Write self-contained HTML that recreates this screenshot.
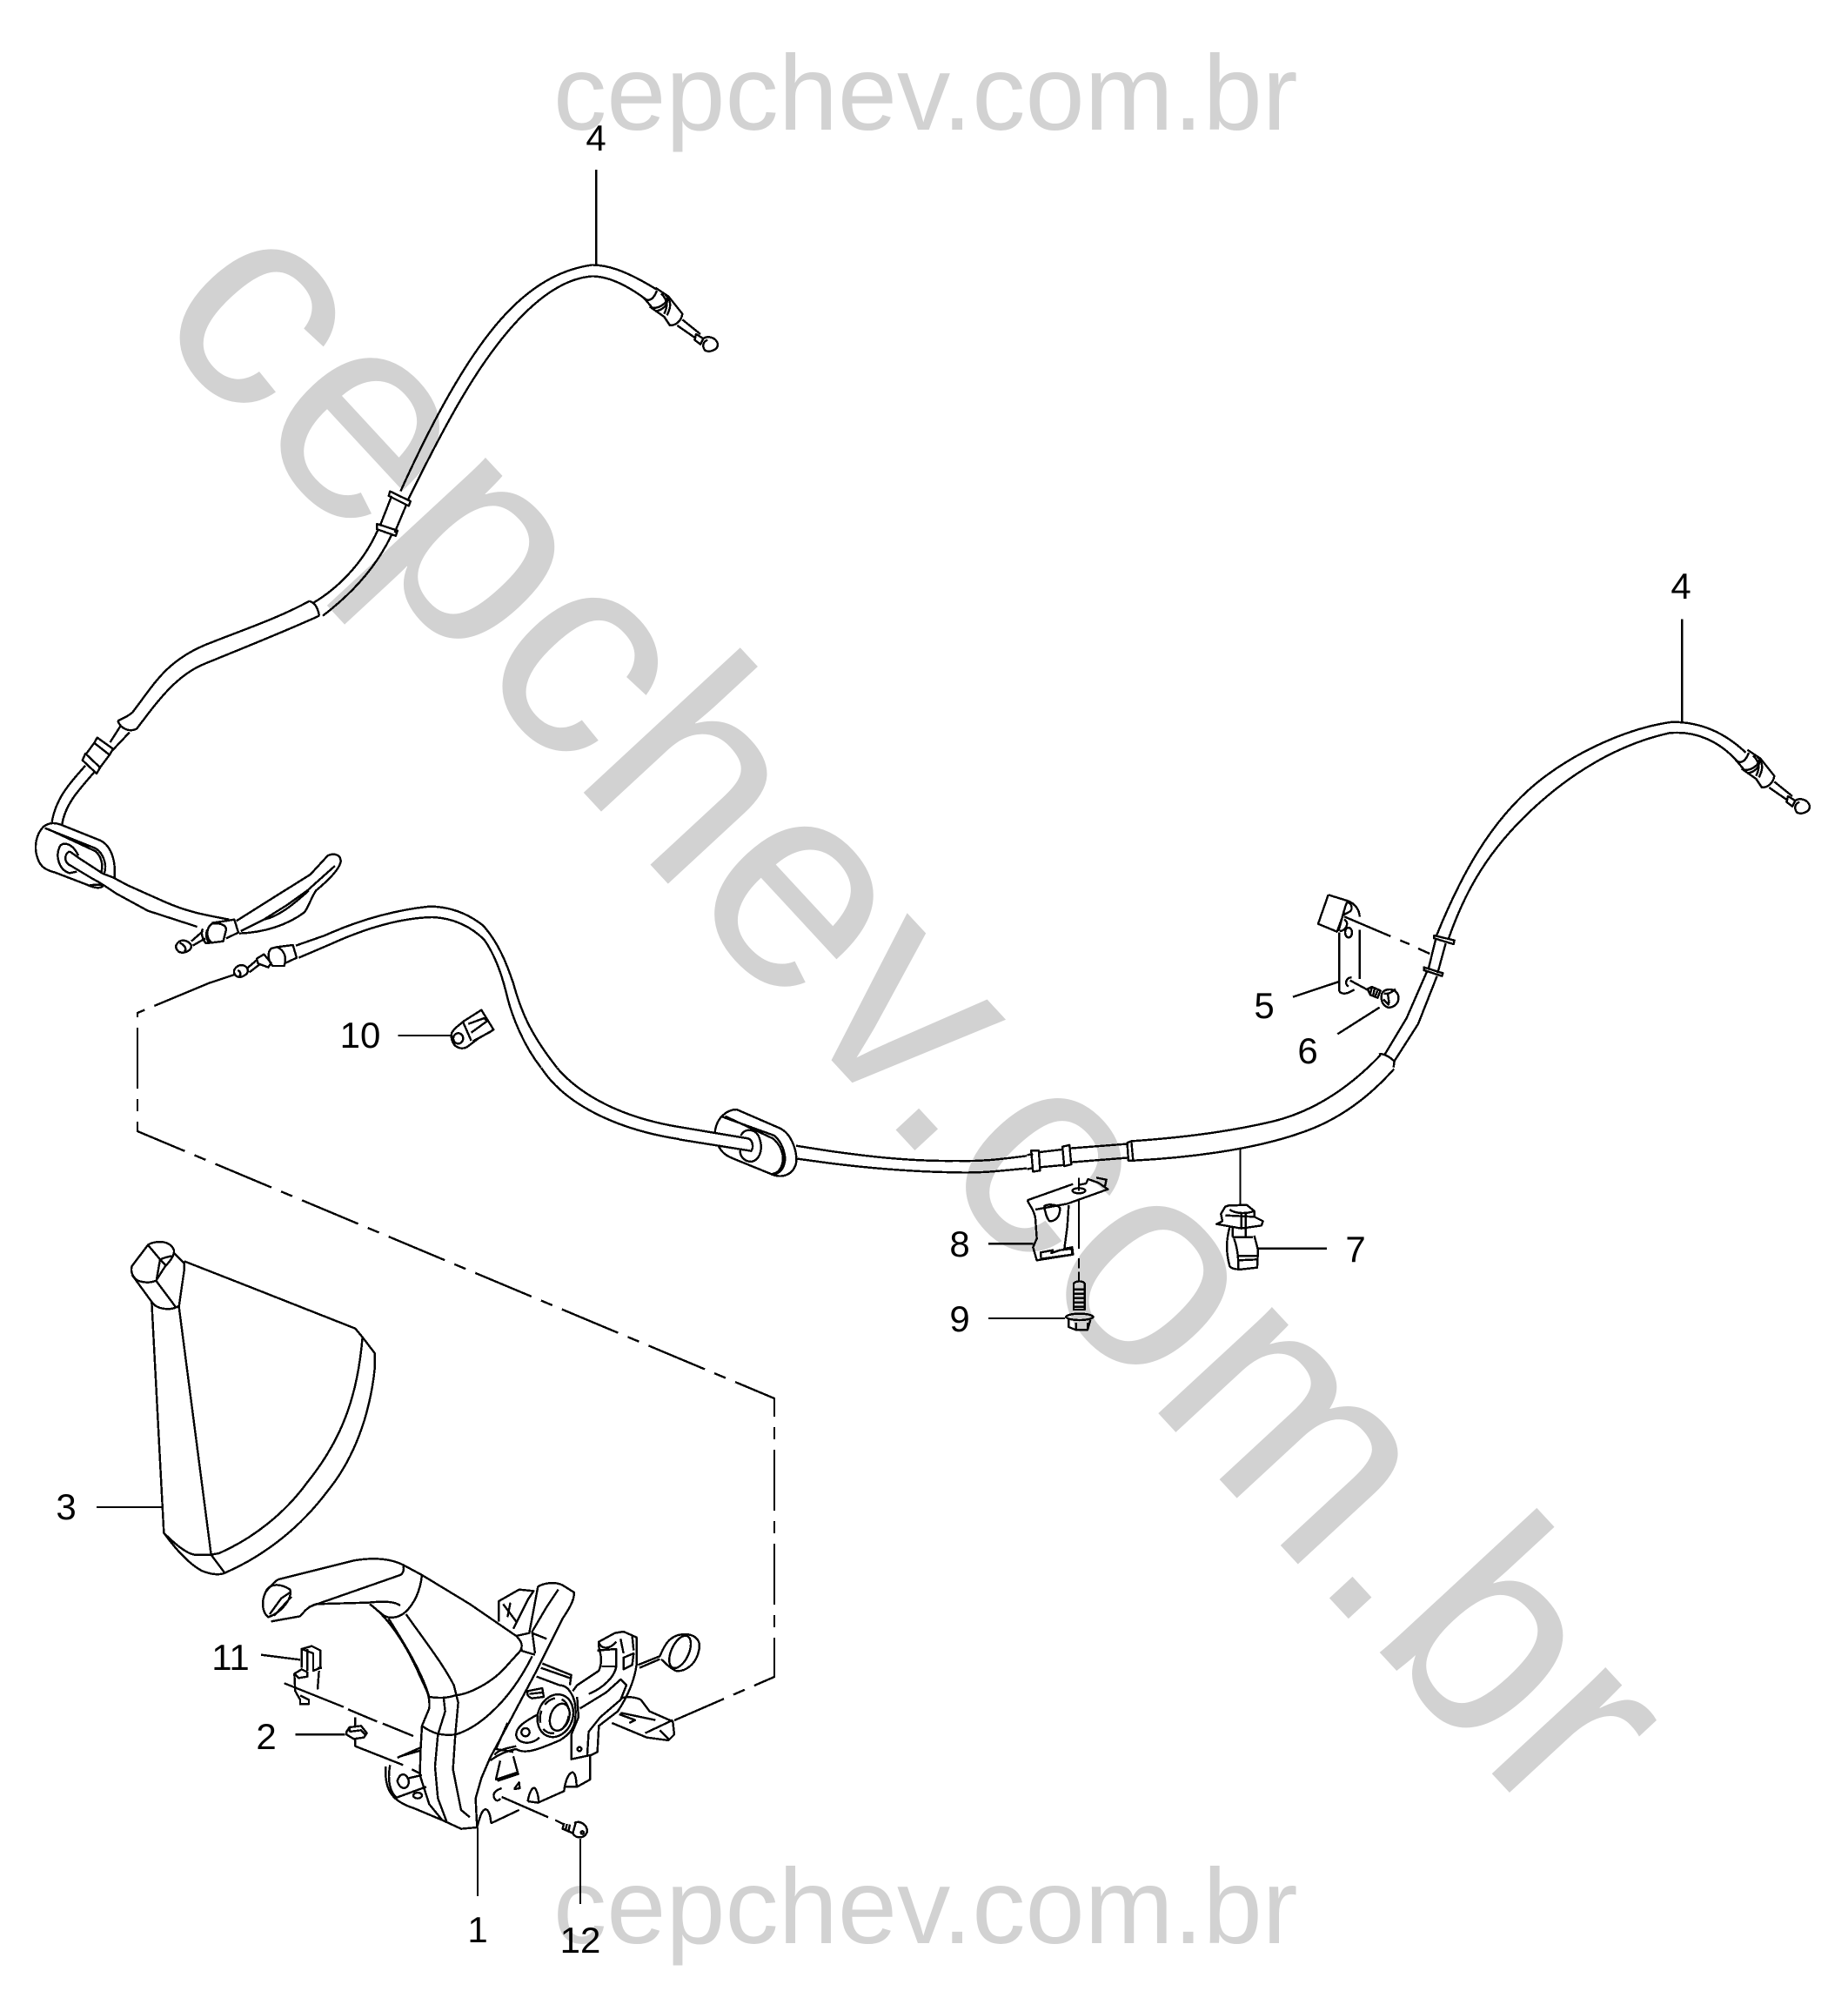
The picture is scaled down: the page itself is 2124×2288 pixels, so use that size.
<!DOCTYPE html>
<html>
<head>
<meta charset="utf-8">
<title>Parking brake diagram</title>
<style>
html,body{margin:0;padding:0;background:#fff;}
svg{display:block;}
path,ellipse,line{fill:none;stroke:#000;stroke-width:2.4;vector-effect:non-scaling-stroke;stroke-linejoin:round;stroke-linecap:butt;shape-rendering:crispEdges;}
.wm{font-family:"Liberation Sans",sans-serif;fill:#d2d2d2;}
.lb{font-family:"Liberation Sans",sans-serif;font-size:42px;fill:#000;text-anchor:middle;}
</style>
</head>
<body>
<svg xmlns="http://www.w3.org/2000/svg" width="2124" height="2288" viewBox="0 0 2124 2288">
<rect width="2124" height="2288" fill="#fff"/>

<!-- watermark -->
<text class="wm" x="636" y="149" font-size="122.5">cepchev.com.br</text>
<text class="wm" x="636" y="2233" font-size="122.5">cepchev.com.br</text>
<text class="wm" x="169" y="369" font-size="338.5" transform="rotate(47.2 169 369)">cepchev.com.br</text>

<!-- Upper cable (zoom 1 space) -->
<g transform="scale(.677,.765)">
<path d="M1012,255 L1012,398"/>
<path d="M1115,435 C1060,405 1030,398 1005,398 C950,405 900,430 850,480 C790,540 730,640 680,738"/>
<path d="M1100,452 C1060,425 1030,415 1005,415 C960,418 915,445 870,490 C810,550 760,630 692,752"/>
<path d="M662,738 L697,753 L694,760 L660,745Z M640,787 L675,797 L672,805 L640,795Z"/>
<path d="M665,745 L645,790 M690,758 L670,800"/>
<path d="M642,795 C620,840 580,880 533,905 M665,803 C640,850 600,890 548,925"/>
<path d="M525,903 C470,930 400,950 345,970 C280,995 260,1030 225,1070 C215,1078 205,1080 200,1083"/>
<path d="M542,925 C480,950 400,978 345,998 C300,1015 270,1050 232,1095"/>
<path d="M525,903 C535,905 540,915 542,925 M200,1083 C205,1095 220,1100 232,1095"/>
<path d="M205,1090 L187,1115 M220,1100 L190,1128"/>
<path d="M165,1108 L192,1125 L186,1134 L160,1116Z"/>
<path d="M160,1116 L145,1134 M186,1134 L168,1155"/>
<path d="M145,1132 L170,1153 L164,1162 L140,1142Z"/>
<path d="M145,1150 C115,1180 95,1200 88,1235 M160,1160 C130,1190 110,1210 105,1240"/>
</g>

<!-- End fitting (right, zoom 10 space) -->
<g transform="translate(1980,840) scale(.3333)">
<path d="M85,65 L130,95 C125,115 105,135 75,135 L45,100 C55,110 75,115 90,75"/>
<path d="M130,95 L178,155 C175,175 160,195 135,195 L115,165 L65,130"/>
<path d="M105,85 C125,105 130,125 115,155 M90,145 C110,140 130,125 125,100 M120,90 C140,110 140,130 125,160"/>
<path d="M178,175 L240,225 M160,195 L225,240 M225,225 L250,240 L240,260 L220,245Z"/>
<path d="M250,240 C265,230 295,235 300,260 C300,280 270,290 255,280 C245,265 250,250 265,245"/>
</g>
<!-- End fitting (upper cable) -->
<g transform="translate(725,309) scale(.3333)">
<path d="M85,65 L130,95 C125,115 105,135 75,135 L45,100 C55,110 75,115 90,75"/>
<path d="M130,95 L178,155 C175,175 160,195 135,195 L115,165 L65,130"/>
<path d="M105,85 C125,105 130,125 115,155 M90,145 C110,140 130,125 125,100 M120,90 C140,110 140,130 125,160"/>
<path d="M178,175 L240,225 M160,195 L225,240 M225,225 L250,240 L240,260 L220,245Z"/>
<path d="M250,240 C265,230 295,235 300,260 C300,280 270,290 255,280 C245,265 250,250 265,245"/>
</g>

<!-- Left grommet and loop (zoom 5 space) -->
<g transform="translate(30,930) scale(.3333)">
<path d="M60,60 C80,45 100,45 125,55 L250,105 C290,120 310,170 305,235"/>
<path d="M60,60 C35,85 25,130 40,170 C50,200 70,210 100,218 L210,260 C230,270 255,275 265,265"/>
<path d="M65,65 L240,135 C265,150 280,190 270,220 M75,68 L240,145 C260,165 265,190 260,215"/>
<path d="M115,130 C100,165 115,210 150,220 L175,215 M115,130 C125,110 160,115 180,160"/>
<path d="M220,262 C235,260 250,258 262,262"/>
<path d="M150,145 C130,155 130,185 155,195 L230,240 C260,255 280,270 310,290 L420,350 L590,405"/>
<path d="M150,145 L185,170 L265,222 L300,235 L350,262 L480,320 C560,355 620,365 700,380"/>
<path d="M640,392 C690,385 700,383 718,380 L732,425 L690,445"/>
<path d="M640,395 C620,410 620,445 640,460 L680,455 L690,415 C690,400 670,390 640,395Z"/>
<path d="M610,412 C600,425 610,450 620,462 L640,460 M625,415 C618,430 622,450 630,458"/>
<path d="M610,420 L570,455 M618,445 L575,470"/>
<path d="M520,465 C530,445 560,450 570,470 C570,490 540,500 525,490 C515,480 515,470 520,465Z M530,460 C550,470 555,485 545,490"/>
<path d="M725,385 L860,300 L980,225 L1040,160 C1060,150 1085,155 1085,180 C1080,210 1030,255 1000,280 C985,300 975,335 960,355 C900,400 820,425 735,428"/>
<path d="M740,420 L820,380 L900,330 L970,280 L1065,195 M820,380 C870,370 920,330 975,280"/>
</g>

<!-- Second cable, left (zoom 6 space) -->
<g transform="translate(240,1030) scale(.3333)">
<path d="M300,170 L400,135 C500,90 620,50 760,35 C840,35 900,65 945,100 C1000,160 1030,240 1050,300 C1075,390 1105,470 1200,590"/>
<path d="M310,212 L420,165 C530,115 650,75 770,72 C850,75 910,110 950,150 C985,200 1010,270 1025,330 C1045,420 1090,520 1145,590"/>
<path d="M235,175 L290,168 L303,212 L260,232"/>
<path d="M215,180 C200,195 205,225 220,240 L260,240 C270,210 260,185 235,175Z"/>
<path d="M165,215 L190,200 L215,230 L205,245 L170,232Z"/>
<path d="M165,220 L130,250 M175,235 L140,262"/>
<path d="M90,250 C105,230 130,235 135,255 C135,270 110,285 95,275 C85,265 85,258 90,250Z M100,255 C110,260 112,270 105,275"/>
<path d="M5,298 L88,270"/>
<!-- part 10 -->
<path d="M652,480 L838,480"/>
<path d="M838,470 C850,450 870,440 880,430 L940,392 L982,460 L930,490 L890,520 C870,530 850,520 842,505 C835,490 835,480 838,470Z"/>
<path d="M875,430 L905,498 M895,440 L950,420 L960,430 L905,470 M910,500 L975,465"/>
<ellipse cx="860" cy="490" rx="17" ry="18"/>
</g>
<path d="M640,1227 C670,1262 720,1285 780,1295 M622,1227 C650,1270 710,1298 780,1309"/>

<!-- Middle grommet (zoom 7 space) -->
<g transform="translate(780,1240) scale(.3333)">
<path d="M0,165 L240,205 C255,210 260,235 250,248 L0,208"/>
<path d="M125,185 C130,130 170,105 200,105 L350,170 C390,190 410,250 405,290 C395,330 360,340 330,332 L190,275 C165,265 150,255 138,232"/>
<path d="M150,130 L330,195 C355,215 372,260 365,290 C360,315 340,330 320,330 M160,128 L325,205 C350,225 365,260 358,290 C350,320 335,325 320,328"/>
<path d="M215,195 C225,170 260,170 275,195 C295,240 280,280 250,285 C225,285 205,260 215,240"/>
<path d="M405,230 L520,248 C640,265 800,285 960,282 C1050,285 1120,275 1200,265"/>
<path d="M410,275 L520,290 C640,305 800,320 960,322 C1050,325 1120,315 1200,308"/>
</g>

<!-- Right cable (zoom 2 space) -->
<g transform="translate(1062,600) scale(.677,.638)">
<path d="M175,1140 L185,1138 M175,1165 L185,1164"/>
<path d="M182,1132 L195,1132 L197,1168 L185,1170Z M235,1125 L247,1122 L250,1157 L238,1160Z"/>
<path d="M195,1135 L235,1130 M197,1162 L238,1158 M247,1128 L345,1120 M250,1153 L345,1145"/>
<path d="M345,1118 L352,1115 L355,1150 L347,1150Z"/>
<path d="M352,1115 C450,1108 530,1095 590,1080 C670,1060 730,1010 775,960"/>
<path d="M355,1150 C450,1145 560,1130 640,1100 C710,1075 760,1030 798,985"/>
<path d="M870,745 C910,640 960,540 1040,470 C1110,410 1200,370 1270,360 C1320,360 1360,380 1395,415"/>
<path d="M890,752 C920,660 960,590 1030,520 C1100,450 1180,400 1265,380 C1310,375 1350,395 1380,430"/>
<path d="M1287,175 L1287,360"/>
<path d="M537,1130 L537,1230"/>
</g>

<!-- Bracket 5, screw 6, right clips (zoom 9 space) -->
<g transform="translate(1420,1010) scale(.3333)">
<path d="M515,605 L590,480 L660,320 M548,628 L630,500 L695,335"/>
<path d="M495,605 C510,600 535,615 548,630 L545,650"/>
<path d="M650,305 L715,325 L712,335 L650,315Z M685,195 L755,212 L752,225 L685,205Z"/>
<path d="M665,312 L690,210 M697,325 L725,222"/>
<path d="M320,55 L285,155 L350,182 L375,115"/>
<path d="M320,55 L385,75 C415,85 428,110 428,130"/>
<path d="M385,80 C375,100 370,130 355,180 M385,80 C405,85 405,110 390,115 L370,125 M375,140 C395,150 380,180 360,180"/>
<ellipse cx="390" cy="185" rx="12" ry="17"/>
<path d="M358,185 L358,385 C360,395 375,398 390,392 L410,382 M428,175 L428,345"/>
<path d="M400,340 C380,340 375,365 390,370"/>
<path d="M198,407 L355,355"/>
<path d="M375,130 L535,198 M568,212 L600,225 M630,240 L670,258"/>
<path d="M395,350 L460,385"/>
<path d="M455,380 L470,372 L500,385 L490,410 L465,400Z M470,375 L465,395 M480,378 L475,400 M490,385 L482,405"/>
<path d="M505,395 C515,375 555,375 562,405 C565,430 545,445 525,443 C505,435 500,415 505,395Z M512,395 C530,400 545,385 552,380 M510,415 L530,435 M525,395 L530,430"/>
<path d="M497,443 L352,535"/>
</g>

<!-- Parts 7, 8, 9 (zoom 8 space) -->
<g transform="translate(1080,1340) scale(.3333)">
<path d="M302,118 L460,62 M302,118 C310,135 325,150 330,180 L335,250 L322,280 L335,325 L460,305 L457,280 L430,285 L440,210 L445,135"/>
<path d="M330,150 L440,130 L580,80 L548,58 L512,45 L505,60 L480,65 M540,40 L575,47 L570,70"/>
<ellipse cx="480" cy="85" rx="22" ry="9"/>
<path d="M480,40 L480,85 M480,115 L480,285 M480,318 L480,352 M480,365 L480,395"/>
<path d="M360,140 C365,130 405,130 415,145 C415,175 400,190 380,190 C370,185 365,160 360,140"/>
<path d="M348,298 L390,290 L385,300 L415,290 L455,285 L458,305 L350,320Z"/>
<path d="M168,268 L322,268"/>
<path d="M462,405 C470,395 495,395 500,405 L500,495 L462,495Z M462,425 L500,425 M462,440 L500,440 M462,455 L500,455 M462,470 L500,470 M462,485 L500,485"/>
<path d="M435,520 C445,505 520,505 530,520 C520,535 445,535 435,520Z"/>
<path d="M445,530 L445,555 L470,565 L510,565 L520,530 M470,540 L470,565 M510,540 L510,565"/>
<path d="M168,525 L432,525"/>
<path d="M970,165 L985,140 L1000,135 C1010,140 1050,130 1060,135 L1085,155 L1085,175 L1115,190 L1110,205 L1040,215 L955,200 L975,190 L970,165Z"/>
<path d="M1000,150 C1020,165 1060,165 1085,155 M985,170 L1085,175 M1040,160 L1040,215 M1055,160 L1055,215"/>
<path d="M1010,210 L1010,245 M1055,215 L1055,245 M1010,245 L1080,245"/>
<path d="M1000,210 C990,250 985,290 1000,345 C1005,355 1030,358 1050,355 L1095,350 L1098,290 L1085,240"/>
<path d="M1015,250 C1030,290 1030,330 1030,355 M1030,310 L1095,310 M1030,325 L1095,322"/>
<path d="M1098,284 L1335,284"/>
</g>

<!-- Long dashed connector -->
<path d="M242,1129 L158,1164 L158,1300 L890,1607 L890,1927 L775,1977" stroke-dasharray="70 12 14 12"/>

<!-- Boot 3 (zoom 11 space) -->
<g transform="translate(140,1410) scale(.3333)">
<path d="M35,135 L90,62 C110,48 165,42 180,80 C182,100 165,120 150,135 L118,185 C95,195 70,190 55,185 C40,175 28,155 35,135Z"/>
<path d="M90,62 L132,112 L120,180 M132,112 C150,105 165,100 178,100 M132,112 L155,135"/>
<path d="M180,90 L215,125 L215,150 L197,275 M118,185 L185,275 M35,165 L103,258 M103,258 C120,285 170,290 197,272"/>
<path d="M103,258 L145,1055 M197,275 L308,1130"/>
<path d="M215,118 L450,210 L640,285 L805,350 L830,380 L872,435 L872,490 C855,650 800,800 710,910 C620,1030 500,1130 355,1193 C340,1200 310,1200 275,1185 C230,1160 185,1110 145,1055 C180,1090 220,1125 250,1130 L308,1130 L355,1193"/>
<path d="M830,380 C815,560 770,720 640,880 C560,990 450,1075 335,1125 L308,1130"/>
</g>
<path d="M111,1732 L187,1732"/>

<!-- Lever assembly (zoom 4 space) -->
<g transform="translate(300,1780) scale(.3333)">
<path d="M60,105 L320,40 C380,30 440,30 490,55 L555,90 L720,190 L880,300 C895,315 905,330 895,350"/>
<path d="M15,150 C30,115 70,120 100,140 C110,170 70,220 25,235 C5,220 0,185 15,150Z M30,225 L70,170 L100,150 M45,230 L105,165"/>
<path d="M60,105 C50,110 30,130 15,150 M35,250 L135,232 C150,215 160,200 190,190 L370,185 C420,180 460,180 480,195"/>
<path d="M490,55 C495,70 490,85 480,90 L165,200"/>
<path d="M555,90 C550,140 530,190 495,220 C470,240 440,240 425,230 M375,190 L430,235"/>
<path d="M375,190 C430,230 490,310 540,420 C565,480 585,500 580,550 L555,610 L550,700 L548,780 L580,880 L625,935"/>
<path d="M440,240 C490,320 540,400 570,480 L580,510 M500,225 C560,310 630,400 665,470 L680,530 L670,640 L662,760 L690,900 L720,925"/>
<path d="M580,510 C610,515 640,515 670,505 C720,500 800,460 850,400 L900,345"/>
<path d="M630,515 L635,560 L610,640 L600,750 L610,860 L640,940"/>
<path d="M555,610 C590,635 620,645 670,640 C740,620 850,540 935,370 M895,350 L945,365"/>
<path d="M880,300 L925,290 L955,130 C970,120 1010,110 1040,125 L1080,150 C1080,180 1060,210 1040,240 L950,420 L860,590 L790,720 L760,790 L740,860 L745,960"/>
<path d="M1025,140 L985,200 L935,285 L945,360 M935,290 L985,310"/>
<!-- rear clip behind lever -->
<path d="M820,250 L820,180 L890,140 L940,145 L920,175 L870,275 M835,190 L880,250 M860,185 L850,235"/>
<path d="M430,750 C425,830 450,870 530,895 L625,935 L690,965 L745,960 M445,745 C435,800 445,840 470,860"/>
<path d="M470,720 L550,685 M480,715 L550,695"/>
<path d="M470,800 C480,770 500,770 510,800 C510,830 480,835 470,800Z M460,860 L570,820 M510,790 L555,780 M520,760 L550,775"/>
<ellipse cx="540" cy="850" rx="15" ry="10"/>
<path d="M745,960 C755,920 765,890 780,900 C795,915 790,945 795,945 L890,900"/>
<path d="M830,825 C815,830 795,840 805,860 C810,870 820,870 825,860 M875,825 L890,805 L892,825 L875,828Z"/>
<path d="M920,870 C925,840 935,820 945,825 C955,840 960,870 955,875 L1045,835 C1050,790 1065,770 1075,770 C1090,780 1085,810 1090,820 L1135,795 L1135,710 M955,875 L920,870 M1045,820 L1090,820"/>
<path d="M825,730 L810,795 L885,770 L870,715 M815,800 L890,775"/>
<path d="M790,730 C830,700 860,695 880,690 C910,710 960,690 1030,660 C1080,630 1085,600 1085,560 C1085,510 1060,470 1030,470 L950,440"/>
<path d="M970,395 L1070,435 L1065,470 M965,410 L1065,445"/>
<path d="M920,490 L970,480 L975,510 L935,515 C920,510 915,500 920,490Z M925,500 L970,495"/>
<ellipse cx="1015" cy="575" rx="60" ry="75" transform="rotate(20 1015 575)"/>
<ellipse cx="1012" cy="575" rx="48" ry="62" transform="rotate(20 1012 575)" stroke-dasharray="14 8"/>
<ellipse cx="1030" cy="580" rx="32" ry="48" transform="rotate(20 1030 580)"/>
<ellipse cx="912" cy="632" rx="14" ry="14"/>
<path d="M880,640 C880,610 920,590 955,570 M880,640 C880,670 930,680 960,650 M805,710 C820,690 860,685 880,680 M850,600 L810,690 L870,700"/>
<path d="M1075,490 L1090,470 L1165,420 C1185,370 1160,350 1165,320 L1220,290 L1250,285 L1295,305 L1295,400 C1285,470 1250,530 1230,560 L1165,610 L1160,700 L1140,710 L1070,725 L1070,640 L1095,580 L1090,510"/>
<path d="M1165,320 C1170,345 1200,350 1225,320 M1100,550 L1190,495 L1240,450 L1260,470 L1240,520 L1170,580 L1130,630 L1125,710"/>
<ellipse cx="1098" cy="690" rx="7" ry="7"/>
<path d="M1160,350 L1225,345 L1225,405 L1175,405 M1225,405 C1220,440 1180,480 1130,500"/>
<path d="M1250,375 L1285,360 L1280,400 L1250,415Z M1240,310 L1250,360 M1280,300 L1285,350"/>
<path d="M1300,400 L1375,370 C1385,350 1400,300 1450,295 C1490,290 1520,310 1510,350 C1500,400 1460,425 1430,420 C1410,410 1395,395 1380,380 M1305,410 L1375,380"/>
<ellipse cx="1445" cy="355" rx="30" ry="60" transform="rotate(25 1445 355)"/>
<path d="M1240,515 C1270,505 1300,515 1310,520 L1340,560 L1420,595 L1425,640 L1405,660 L1330,650 L1210,600"/>
<path d="M1240,565 L1360,590 M1325,635 L1420,590 M1375,625 L1410,660 M1235,570 L1290,590 L1270,600"/>
<!-- clip 11 -->
<path d="M140,410 L140,345 L175,335 L205,350 L205,410 L180,420 L180,360 L140,345 M160,345 L160,420"/>
<path d="M115,430 L140,415 L160,425 L160,440 L130,445 L115,430 L118,490 L135,520 L135,535 L165,535 L165,520 L135,505 M195,410 L210,410 M200,420 L195,485"/>
<path d="M0,365 L135,382"/>
<path d="M80,463 L285,545 M300,553 L400,595 M420,602 L525,645"/>
<!-- nut 2 -->
<path d="M325,580 L325,610 M295,630 L305,615 L345,610 L365,635 L355,650 L320,655 L295,640Z M305,630 L345,625 L360,640 M305,615 L305,630"/>
<path d="M118,640 L290,640 M325,655 L325,680 L490,745"/>
<!-- screw 12 -->
<path d="M830,855 L990,925 M1015,935 L1045,950"/>
<path d="M1045,945 L1040,965 L1075,980 L1085,945 M1055,948 L1050,970 M1065,950 L1060,975"/>
<path d="M1080,945 C1100,935 1125,950 1125,975 C1115,1000 1085,1000 1075,980"/>
<ellipse cx="1108" cy="978" rx="5" ry="5"/>
</g>
<path d="M549,2100 L549,2179 M667,2113 L667,2188"/>

<!-- labels -->
<text class="lb" x="685" y="173">4</text>
<text class="lb" x="1932" y="688">4</text>
<text class="lb" x="1453" y="1170">5</text>
<text class="lb" x="1503" y="1222">6</text>
<text class="lb" x="1558" y="1450">7</text>
<text class="lb" x="1103" y="1444">8</text>
<text class="lb" x="1103" y="1530">9</text>
<text class="lb" x="414" y="1204">10</text>
<text class="lb" x="265" y="1919">11</text>
<text class="lb" x="306" y="2010">2</text>
<text class="lb" x="76" y="1746">3</text>
<text class="lb" x="549" y="2232">1</text>
<text class="lb" x="667" y="2244">12</text>
</svg>
</body>
</html>
